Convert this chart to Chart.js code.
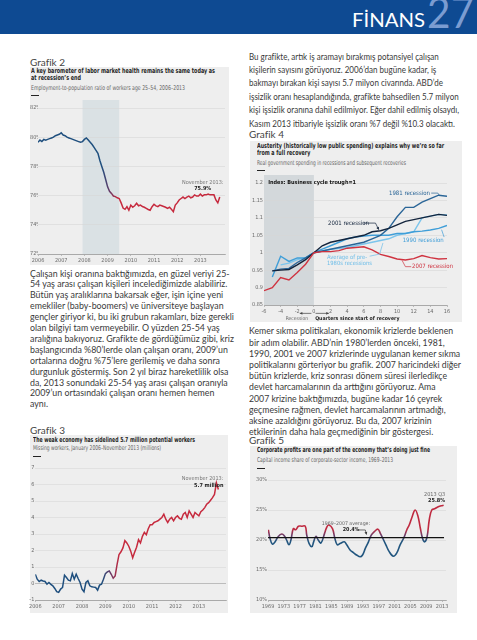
<!DOCTYPE html>
<html lang="tr">
<head>
<meta charset="utf-8">
<title>Finans 27</title>
<script src="https://cdn.jsdelivr.net/npm/chart.js@4.4.1/dist/chart.umd.min.js"></script>
<style>
  html, body { margin: 0; padding: 0; }
  body { width: 477px; height: 640px; position: relative; overflow: hidden; background: #fff; font-family: Lato, 'Open Sans', sans-serif; color: #3a3a3a; }
  .abs { position: absolute; }
  .top { left: 0; top: 0; width: 477px; height: 34px; background: #0e4a92; overflow: hidden; }
  .fit { transform-origin: 0 0; white-space: nowrap; }
  .finans { left: 352px; top: 11px; font-size: 18.5px; line-height: 19px; color: #fff; }
  .num { left: 427px; top: -11px; font-size: 42px; line-height: 46px; color: #7b9cd1; }
  .lbl { font-size: 10px; line-height: 12px; color: #444; }
  .para { font-size: 8.8px; line-height: 10.9px; color: #3a3a3a; }
  .box { background: #eeeeee; }
  .ttl { font-family: 'Liberation Sans Narrow', 'DejaVu Sans Condensed', Roboto, sans-serif; font-weight: bold; font-size: 7px; line-height: 7.3px; color: #1e1e1e; }
  .sub { font-family: 'Liberation Sans Narrow', 'DejaVu Sans Condensed', Roboto, sans-serif; font-size: 6.6px; line-height: 7px; color: #666; }
  .dash { width: 8px; height: 1.3px; background: #222; }
</style>
</head>
<body>
<div class="abs top">
  <div class="abs fit finans" data-w="73"><span>FİNANS</span></div>
  <div class="abs fit num" data-w="47"><span>27</span></div>
</div>

<div class="abs lbl" style="left:30px;top:56px">Grafik 2</div>
<div class="abs box" style="left:30px;top:67px;width:199px;height:198px"></div>
<div class="abs fit ttl" data-w="184" style="left:31px;top:68px"><span>A key barometer of labor market health remains the same today as</span><br><span>at recession’s end</span></div>
<div class="abs fit sub" data-w="154" style="left:31px;top:85px"><span>Employment-to-population ratio of workers age 25–54, 2006–2013</span></div>
<div class="abs dash" style="left:31px;top:94.5px"></div>
<canvas id="g2" class="abs" width="201" height="167" style="left:30px;top:98px"></canvas>

<div class="abs fit para" data-w="204" style="left:30px;top:268.5px">
<span>Çalışan kişi oranına baktığımızda, en güzel veriyi 25-</span><br>
<span>54 yaş arası çalışan kişileri incelediğimizde alabiliriz.</span><br>
<span>Bütün yaş aralıklarına bakarsak eğer, işin içine yeni</span><br>
<span>emekliler (baby-boomers) ve üniversiteye başlayan</span><br>
<span>gençler giriyor ki, bu iki grubun rakamları, bize gerekli</span><br>
<span>olan bilgiyi tam vermeyebilir. O yüzden 25-54 yaş</span><br>
<span>aralığına bakıyoruz. Grafikte de gördüğümüz gibi, kriz</span><br>
<span>başlangıcında %80’lerde olan çalışan oranı, 2009’un</span><br>
<span>ortalarına doğru %75’lere gerilemiş ve daha sonra</span><br>
<span>durgunluk göstermiş. Son 2 yıl biraz hareketlilik olsa</span><br>
<span>da, 2013 sonundaki 25-54 yaş arası çalışan oranıyla</span><br>
<span>2009’un ortasındaki çalışan oranı hemen hemen</span><br>
<span>aynı.</span>
</div>

<div class="abs lbl" style="left:30px;top:424px">Grafik 3</div>
<div class="abs box" style="left:30px;top:435px;width:198px;height:178px"></div>
<div class="abs fit ttl" data-w="162" style="left:33px;top:436.5px"><span>The weak economy has sidelined 5.7 million potential workers</span></div>
<div class="abs fit sub" data-w="128" style="left:33px;top:445px"><span>Missing workers, January 2006–November 2013 (millions)</span></div>
<div class="abs dash" style="left:33px;top:456px"></div>
<canvas id="g3" class="abs" width="200" height="151" style="left:28px;top:462px"></canvas>

<div class="abs fit para" data-w="210" style="left:249px;top:49.5px;line-height:13.4px">
<span>Bu grafikte, artık iş aramayı bırakmış potansiyel çalışan</span><br>
<span>kişilerin sayısını görüyoruz. 2006’dan bugüne kadar, iş</span><br>
<span>bakmayı bırakan kişi sayısı 5.7 milyon civarında. ABD’de</span><br>
<span>işsizlik oranı hesaplandığında, grafikte bahsedilen 5.7 milyon</span><br>
<span>kişi işsizlik oranına dahil edilmiyor. Eğer dahil edilmiş olsaydı,</span><br>
<span>Kasım 2013 itibariyle işsizlik oranı %7 değil %10.3 olacaktı.</span>
</div>

<div class="abs lbl" style="left:249px;top:128px">Grafik 4</div>
<div class="abs box" style="left:250px;top:141px;width:212px;height:181px"></div>
<div class="abs fit ttl" data-w="187" style="left:257px;top:143px;line-height:6.8px"><span>Austerity (historically low public spending) explains why we’re so far</span><br><span>from a full recovery</span></div>
<div class="abs fit sub" data-w="149" style="left:257px;top:160px"><span>Real government spending in recessions and subsequent recoveries</span></div>
<div class="abs dash" style="left:257px;top:169.5px"></div>
<canvas id="g4" class="abs" width="215" height="147" style="left:248px;top:175px"></canvas>

<div class="abs fit para" data-w="212" style="left:249px;top:325.4px;line-height:11.2px">
<span>Kemer sıkma politikaları, ekonomik krizlerde beklenen</span><br>
<span>bir adım olabilir. ABD’nin 1980’lerden önceki, 1981,</span><br>
<span>1990, 2001 ve 2007 krizlerinde uygulanan kemer sıkma</span><br>
<span>politikalarını görteriyor bu grafik. 2007 haricindeki diğer</span><br>
<span>bütün krizlerde, kriz sonrası dönem süresi ilerledikçe</span><br>
<span>devlet harcamalarının da arttığını görüyoruz. Ama</span><br>
<span>2007 krizine baktığımızda, bugüne kadar 16 çeyrek</span><br>
<span>geçmesine rağmen, devlet harcamalarının artmadığı,</span><br>
<span>aksine azaldığını görüyoruz. Bu da, 2007 krizinin</span><br>
<span>etkilerinin daha hala geçmediğinin bir göstergesi.</span>
</div>

<div class="abs lbl" style="left:249px;top:434px">Grafik 5</div>
<div class="abs box" style="left:250px;top:446px;width:207px;height:167px"></div>
<div class="abs fit ttl" data-w="173" style="left:257px;top:447px"><span>Corporate profits are one part of the economy that’s doing just fine</span></div>
<div class="abs fit sub" data-w="136" style="left:257px;top:456.8px"><span>Capital income share of corporate-sector income, 1969–2013</span></div>
<div class="abs dash" style="left:257px;top:467.5px"></div>
<canvas id="g5" class="abs" width="208" height="141" style="left:248px;top:472px"></canvas>

<script>
// Grafik 2 - employment-to-population ratio, 25-54, monthly Jan 2006 - Nov 2013
const years = [2006, 2007, 2008, 2009, 2010, 2011, 2012, 2013];
const recession = [2007.92, 2009.5];
const epop = [
  79.65, 79.8, 79.7, 79.85, 79.8, 79.85, 79.9, 79.95, 80.0, 80.1, 80.15, 80.2,
  80.3, 80.15, 80.1, 80.0, 79.95, 79.9, 79.85, 79.8, 79.75, 79.7, 79.65, 79.7,
  79.85, 79.95, 79.8, 79.65, 79.5, 79.3, 79.1, 78.9, 78.4, 78.0, 77.6, 77.1,
  76.6, 76.3, 76.15, 75.97, 75.93, 75.85, 75.8, 75.5, 75.15, 75.06, 75.24, 75.0,
  75.35, 75.2, 75.3, 75.47, 75.3, 75.35, 75.25, 75.2, 75.13, 75.05, 75.0, 75.24,
  75.4, 75.3, 75.24, 75.35, 75.3, 75.25, 75.2, 75.13, 75.2, 75.06, 74.9, 75.35,
  75.5, 75.7, 75.8, 75.9, 75.8, 75.9, 75.97, 75.85, 75.9, 76.05, 75.97, 75.97,
  76.1, 75.97, 76.05, 76.05, 76.1, 76.05, 76.05, 76.05, 75.7, 75.5, 75.9
];
const epopTicks = [72, 74, 76, 78, 80, 82];

// Grafik 3 - missing workers (millions), monthly Jan 2006 - Nov 2013
const missing = [
  0.56, 0.26, 0.12, 0.2, 0.15, 0.12, -0.04, 0.06, -0.05, -0.14, -0.3, -0.5,
  -0.54, -0.34, -0.24, 0.5, 0.36, 0.2, 0.16, 0.6, 0.26, 0.56, 0.3, 0.06,
  -0.34, -0.5, 0.06, 0.16, -0.14, -0.2, -0.22, -0.24, -0.4, -0.1, -0.04, 0.26,
  0.6, 0.7, 0.76, 0.56, 0.32, 0.46, 1.16, 1.76, 1.92, 2.16, 2.6, 2.46,
  2.26, 1.96, 1.56, 1.9, 2.2, 2.66, 2.46, 2.86, 3.1, 2.96, 3.32, 3.56,
  3.56, 3.7, 3.75, 3.8, 3.9, 4.0, 4.2, 3.9, 3.7, 3.9, 4.0, 3.8,
  4.0, 4.1, 3.95, 3.9, 4.2, 4.3, 4.0, 4.4, 4.2, 4.0, 4.3, 4.2,
  4.1, 4.35, 4.45, 4.6, 4.8, 4.9, 5.05, 5.2, 5.4, 6.1, 5.7
];
const missingTicks = [-1, 0, 1, 2, 3, 4, 5, 6, 7];

// Grafik 4 - real government spending, index (trough = 1), quarters -6..16
const quarters = [-6, -5, -4, -3, -2, -1, 0, 1, 2, 3, 4, 5, 6, 7, 8, 9, 10, 11, 12, 13, 14, 15, 16];
const rec2007 = [0.891, 0.9, 0.929, 0.922, 0.943, 0.967, 1.0, 1.003, 1.003, 1.006, 1.013, 1.015, 1.017, 1.008, 0.995, 0.989, 0.982, 0.979, 0.983, 0.992, 0.986, 0.982, 0.983];
const rec2001 = [null, 0.948, 0.95, 0.952, 0.965, 0.98, 1.0, 1.02, 1.03, 1.035, 1.04, 1.045, 1.05, 1.06, 1.063, 1.07, 1.08, 1.09, 1.095, 1.1, 1.105, 1.11, 1.107];
const rec1981 = [null, 0.948, 0.953, 0.955, 0.972, 0.985, 1.0, 1.005, 1.01, 1.015, 1.02, 1.025, 1.03, 1.04, 1.05, 1.07, 1.103, 1.13, 1.13, 1.145, 1.155, 1.165, 1.162];
const rec1990 = [null, 0.93, 0.99, 0.975, 0.985, 0.985, 1.0, 1.01, 1.02, 1.03, 1.04, 1.045, 1.048, 1.05, 1.05, 1.05, 1.055, 1.055, 1.06, 1.062, 1.065, 1.07, 1.078];
const recAvg = [null, null, 0.965, 0.97, 0.98, 0.985, 1.0, 1.005, 1.01, 1.012, 1.015, 1.02, 1.025, 1.03, 1.035, 1.04, 1.05, 1.055, 1.06, 1.1, 1.105, 1.11, 1.108];
const quarterTicks = [-6, -4, -2, 0, 2, 4, 6, 8, 10, 12, 14, 16];
const indexTicks = [0.85, 0.9, 0.95, 1, 1.05, 1.1, 1.15, 1.2];
const indexLabels = ['0.85', '0.9', '0.95', '1', '1.05', '1.1', '1.15', '1.2'];

// Grafik 5 - capital income share of corporate-sector income (%)
const profitYears = [1969.1, 1969.5, 1970.1, 1970.8, 1971.6, 1972.5, 1973.1, 1973.7, 1974.3, 1974.8,
  1975.4, 1976.0, 1976.7, 1977.5, 1978.4, 1978.8, 1979.4, 1980.1, 1980.5, 1981.1,
  1981.7, 1982.4, 1983.3, 1983.9, 1984.4, 1985.3, 1985.9, 1986.5, 1987.2, 1988.3,
  1988.9, 1989.8, 1990.6, 1991.4, 1992.3, 1992.9, 1993.6, 1994.4, 1995.1, 1995.9,
  1996.8, 1997.4, 1998.0, 1998.8, 1999.6, 2000.7, 2001.6, 2002.4, 2003.3, 2004.1,
  2004.7, 2005.4, 2006.2, 2006.9, 2007.5, 2008.1, 2008.6, 2009.2, 2009.8, 2010.4,
  2011.1, 2011.9, 2012.8, 2013.4];
const profitShare = [21.7, 20.3, 19.3, 19.7, 20.6, 21.0, 20.7, 20.0, 19.2, 20.0,
  21.9, 21.7, 22.3, 22.3, 22.3, 20.8, 19.4, 18.9, 19.6, 20.6,
  20.0, 19.5, 21.1, 22.2, 22.5, 21.9, 20.3, 19.2, 19.4, 19.7,
  19.2, 18.3, 17.9, 17.5, 17.2, 17.5, 18.6, 19.7, 20.8, 21.4,
  21.8, 21.1, 20.3, 19.2, 18.1, 17.3, 17.9, 19.2, 20.3, 21.7,
  22.5, 23.8, 25.0, 24.0, 22.0, 20.2, 19.7, 20.5, 23.5, 25.0,
  25.2, 25.5, 25.7, 25.8];
const profitAvg = 20.4;
const avgSpan = [1969, 2013.5];
const profitTicks = [1969, 1973, 1977, 1981, 1985, 1989, 1993, 1997, 2001, 2005, 2009, 2013];
const shareTicks = [10, 15, 20, 25, 30];

// squeeze text blocks to the column widths of the page
document.querySelectorAll('[data-w]').forEach(el => {
  let w = 0;
  el.querySelectorAll('span').forEach(s => { w = Math.max(w, s.getBoundingClientRect().width); });
  if (w) el.style.transform = 'scaleX(' + (el.dataset.w / w) + ')';
});

const FONT = "'Liberation Sans Narrow', 'DejaVu Sans Condensed', Roboto, sans-serif";
Chart.defaults.font.family = FONT;
Chart.defaults.font.size = 5.5;
Chart.defaults.color = '#6a6a6a';

const BLUE = '#1f4f7e', RED = '#c62a3e';

// shading, leader lines and small labels placed in data units
const notes = {
  id: 'notes',
  beforeDraw(chart, args, o) {
    const { ctx, chartArea: a, scales: { x } } = chart;
    (o.bands || []).forEach(b => {
      const x0 = x.getPixelForValue(b.from), x1 = x.getPixelForValue(b.to);
      ctx.save();
      ctx.fillStyle = b.color;
      ctx.fillRect(x0, a.top - b.above, x1 - x0, a.bottom - a.top + b.above);
      ctx.restore();
    });
  },
  afterDatasetsDraw(chart, args, o) {
    const { ctx, scales: { x, y } } = chart;
    (o.lines || []).forEach(l => {
      const p = l.pts.map(q => [x.getPixelForValue(q[0]), y.getPixelForValue(q[1])]);
      ctx.save();
      ctx.strokeStyle = l.color; ctx.fillStyle = l.color; ctx.lineWidth = 0.7;
      ctx.beginPath();
      p.forEach((q, i) => i ? ctx.lineTo(q[0], q[1]) : ctx.moveTo(q[0], q[1]));
      ctx.stroke();
      if (l.arrow) {
        const [x1, y1] = p[p.length - 1], [x0, y0] = p[p.length - 2];
        const ang = Math.atan2(y1 - y0, x1 - x0);
        ctx.beginPath();
        ctx.moveTo(x1, y1);
        ctx.lineTo(x1 - 3 * Math.cos(ang - 0.5), y1 - 3 * Math.sin(ang - 0.5));
        ctx.lineTo(x1 - 3 * Math.cos(ang + 0.5), y1 - 3 * Math.sin(ang + 0.5));
        ctx.closePath();
        ctx.fill();
      }
      ctx.restore();
    });
    (o.texts || []).forEach(t => {
      ctx.save();
      ctx.font = (t.bold ? 'bold ' : '') + (t.size || 5.5) + 'px ' + FONT;
      ctx.fillStyle = t.color || '#666';
      ctx.textAlign = t.align || 'left';
      ctx.textBaseline = 'middle';
      ctx.fillText(t.text, x.getPixelForValue(t.x), y.getPixelForValue(t.y));
      ctx.restore();
    });
  }
};

function axes(o) {
  return {
    x: {
      type: 'linear', min: o.xMin, max: o.xMax,
      afterFit: s => { s.height = o.xH; },
      afterBuildTicks: s => { s.ticks = o.xTicks.map(v => ({ value: v })); },
      ticks: { callback: v => String(v), padding: 1, maxRotation: 0, autoSkip: false },
      grid: { drawOnChartArea: false, tickLength: 2, color: '#9a9a9a', lineWidth: 0.6 },
      border: { color: '#9a9a9a', width: 0.8 }
    },
    y: {
      min: o.yMin, max: o.yMax,
      afterFit: s => { s.width = o.yW; },
      afterBuildTicks: s => { s.ticks = o.yTicks.map(v => ({ value: v })); },
      ticks: { callback: o.yFmt, padding: 1, autoSkip: false, crossAlign: o.yAlign || 'near' },
      grid: { drawTicks: false, color: o.gridColor || '#d7d7d7', lineWidth: 0.6 },
      border: { display: false }
    }
  };
}

function sideGradient(from, to) {
  return ctx => {
    const chart = ctx.chart;
    if (!chart.chartArea) return BLUE;
    const x = chart.scales.x;
    const g = chart.ctx.createLinearGradient(x.getPixelForValue(from), 0, x.getPixelForValue(to), 0);
    g.addColorStop(0, BLUE);
    g.addColorStop(0.5, '#6a3a66');
    g.addColorStop(1, RED);
    return g;
  };
}

const monthly = (vals) => vals.map((v, i) => ({ x: years[0] + i / 12, y: v }));

// Grafik 2
new Chart(document.getElementById('g2'), {
  type: 'line',
  data: { datasets: [{ data: monthly(epop), borderColor: sideGradient(2008.75, 2009.45), borderWidth: 1.5, pointRadius: 0 }] },
  options: {
    responsive: false, animation: false,
    layout: { padding: { left: 0, right: 6, top: 10, bottom: 1 } },
    plugins: {
      legend: { display: false }, tooltip: { enabled: false },
      notes: {
        bands: [{ from: recession[0], to: recession[1], color: '#dae1e4', above: 8 }],
        texts: [
          { x: 2013.1, y: 76.86, text: 'November 2013:', align: 'center', color: '#777' },
          { x: 2013.1, y: 76.45, text: '75.9%', align: 'center', bold: true, color: '#222' }
        ]
      }
    },
    scales: axes({ xMin: 2006, xMax: 2014.06, xTicks: years, xH: 10, yMin: 72, yMax: 82, yTicks: epopTicks, yW: 8, yAlign: 'far', yFmt: v => v + '%' })
  },
  plugins: [notes]
});

// Grafik 3
const g3Axes = axes({ xMin: 2006, xMax: 2014.16, xTicks: years, xH: 11, yMin: -1, yMax: 7, yTicks: missingTicks, yW: 7, yFmt: v => String(v) });
g3Axes.y.grid.color = c => (c.tick && c.tick.value === 0) ? '#9a9a9a' : '#d9d9d9';
new Chart(document.getElementById('g3'), {
  type: 'line',
  data: { datasets: [{ data: monthly(missing), borderColor: sideGradient(2008.85, 2009.6), borderWidth: 1.5, pointRadius: 0 }] },
  options: {
    responsive: false, animation: false,
    layout: { padding: { left: 0, right: 2, top: 6, bottom: 2 } },
    plugins: {
      legend: { display: false }, tooltip: { enabled: false },
      notes: {
        texts: [
          { x: 2014.05, y: 6.36, text: 'November 2013:', align: 'right', color: '#777' },
          { x: 2014.05, y: 5.94, text: '5.7 million', align: 'right', bold: true, color: '#222' }
        ]
      }
    },
    scales: g3Axes
  },
  plugins: [notes]
});

// Grafik 4
const pairs = (vals) => quarters.map((q, i) => ({ x: q, y: vals[i] }));
const line4 = (vals, color) => ({ data: pairs(vals), borderColor: color, borderWidth: 1.4, pointRadius: 0, spanGaps: false });
new Chart(document.getElementById('g4'), {
  type: 'line',
  data: {
    datasets: [
      line4(rec2007, '#cf3340'),
      line4(rec2001, '#13243c'),
      line4(rec1981, '#2a6597'),
      line4(rec1990, '#3f9ed8'),
      line4(recAvg, '#7cc5ec')
    ]
  },
  options: {
    responsive: false, animation: false,
    layout: { padding: { left: 0, right: 16, top: 8, bottom: 8 } },
    plugins: {
      legend: { display: false }, tooltip: { enabled: false },
      notes: {
        bands: [{ from: -6, to: 0, color: '#d3d8db', above: 8 }],
        texts: [
          { x: -5.5, y: 1.2, text: 'Index: Business cycle trough=1', bold: true, color: '#111' },
          { x: 13.95, y: 1.171, text: '1981 recession', align: 'right', color: '#2a6597', size: 6 },
          { x: 1.7, y: 1.085, text: '2001 recession', color: '#13243c', size: 6 },
          { x: 15.6, y: 1.036, text: '1990 recession', align: 'right', color: '#3f9ed8', size: 6 },
          { x: 1.57, y: 0.985, text: 'Average of pre-', color: '#6dbde8', size: 5.8 },
          { x: 1.57, y: 0.9705, text: '1980s recessions', color: '#6dbde8', size: 5.8 },
          { x: 11.8, y: 0.96, text: '2007 recession', color: '#cf3340', size: 6 },
          { x: -0.7, y: 0.811, text: 'Recession', align: 'right', color: '#666', size: 5 },
          { x: 0.15, y: 0.811, text: 'Quarters since start of recovery', bold: true, color: '#222', size: 5.2 }
        ],
        lines: [
          { pts: [[14.1, 1.171], [14.9, 1.171], [15.1, 1.164]], color: '#2a6597' },
          { pts: [[5.95, 1.085], [7.4, 1.085], [7.8, 1.066]], color: '#13243c', arrow: true },
          { pts: [[15.65, 1.045], [15.35, 1.066]], color: '#3f9ed8' },
          { pts: [[6.7, 0.99], [7.9, 0.996], [8.3, 1.028]], color: '#6dbde8' },
          { pts: [[11.7, 0.96], [11.0, 0.96], [10.6, 0.978]], color: '#cf3340' },
          { pts: [[-0.3, 0.826], [-1.7, 0.826]], color: '#444', arrow: true },
          { pts: [[0.2, 0.826], [1.8, 0.826]], color: '#444', arrow: true }
        ]
      }
    },
    scales: axes({ xMin: -6, xMax: 16, xTicks: quarterTicks, xH: 9, yMin: 0.85, yMax: 1.2, yTicks: indexTicks, yW: 16, yFmt: v => indexLabels[indexTicks.indexOf(v)] })
  },
  plugins: [notes]
});

// Grafik 5
const profitColor = ctx => {
  const chart = ctx.chart;
  if (!chart.chartArea) return BLUE;
  const y = chart.scales.y;
  const g = chart.ctx.createLinearGradient(0, y.getPixelForValue(21.8), 0, y.getPixelForValue(19.8));
  g.addColorStop(0, '#bf2a40');
  g.addColorStop(0.5, '#6d3d68');
  g.addColorStop(1, '#22567f');
  return g;
};
new Chart(document.getElementById('g5'), {
  type: 'line',
  data: {
    datasets: [
      { data: avgSpan.map(x => ({ x, y: profitAvg })), borderColor: '#111', borderWidth: 1.1, pointRadius: 0 },
      { data: profitYears.map((x, i) => ({ x, y: profitShare[i] })), borderColor: profitColor, borderWidth: 1.6, pointRadius: 0, tension: 0.4 }
    ]
  },
  options: {
    responsive: false, animation: false,
    layout: { padding: { left: 0, right: 10, top: 8, bottom: 3 } },
    plugins: {
      legend: { display: false }, tooltip: { enabled: false },
      notes: {
        texts: [
          { x: 1988.7, y: 22.67, text: '1969–2007 average:', align: 'center', color: '#666', size: 5.2 },
          { x: 1990.0, y: 21.67, text: '20.4%', align: 'center', bold: true, color: '#222', size: 5.4 },
          { x: 2013.8, y: 27.6, text: '2013 Q3', align: 'right', color: '#666' },
          { x: 2013.8, y: 26.5, text: '25.8%', align: 'right', bold: true, color: '#222' }
        ],
        lines: [
          { pts: [[1991.6, 21.67], [1993.6, 21.67], [1993.9, 20.9]], color: '#333', arrow: true }
        ]
      }
    },
    scales: axes({ xMin: 1969, xMax: 2014, xTicks: profitTicks, xH: 10, yMin: 10, yMax: 30, yTicks: shareTicks, yW: 20, yFmt: v => v + '%' })
  },
  plugins: [notes]
});
</script>
</body>
</html>
